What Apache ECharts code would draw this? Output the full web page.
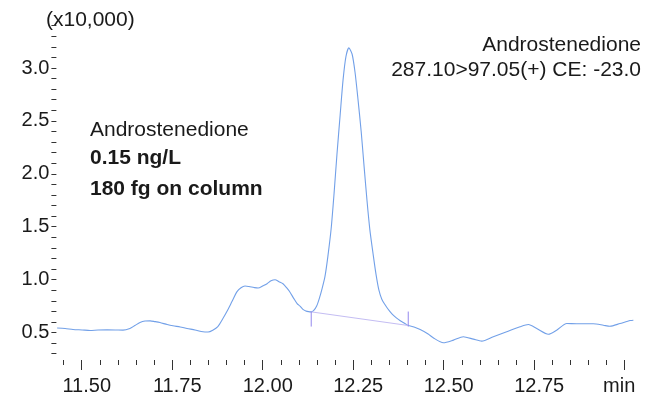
<!DOCTYPE html>
<html>
<head>
<meta charset="utf-8">
<script src="https://cdn.jsdelivr.net/npm/echarts@6.0.0/dist/echarts.min.js"></script>
<style>
html,body{margin:0;padding:0;background:#fff;}
#chart{width:649px;height:396px;}
</style>
</head>
<body>
<div id="chart"></div>
<script>
// Retention time (min)
const times = [
11.432,11.454,11.476,11.501,11.523,11.545,11.570,11.592,11.614,11.633,
11.647,11.661,11.675,11.689,11.702,11.716,11.736,11.752,11.772,11.791,
11.813,11.835,11.849,11.862,11.876,11.890,11.901,11.915,11.929,11.940,
11.951,11.962,11.976,11.987,12.001,12.012,12.023,12.034,12.045,12.056,
12.067,12.075,12.086,12.095,12.103,12.111,12.119,12.127,12.134,12.141,
12.149,12.156,12.164,12.172,12.180,12.189,12.197,12.205,12.214,12.222,
12.230,12.238,12.247,12.255,12.263,12.272,12.280,12.288,12.296,12.305,
12.313,12.321,12.329,12.338,12.346,12.354,12.362,12.370,12.379,12.388,
12.395,12.402,12.418,12.435,12.457,12.471,12.499,12.527,12.554,12.582,
12.605,12.637,12.674,12.711,12.734,12.757,12.789,12.812,12.840,12.867,
12.913,12.941,12.959,12.987,13.015,13.024
];
// Intensity (x10,000)
const intensity = [
0.542,0.538,0.528,0.524,0.519,0.524,0.525,0.524,0.522,0.538,
0.566,0.594,0.608,0.610,0.603,0.594,0.575,0.563,0.552,0.538,
0.524,0.507,0.505,0.522,0.556,0.632,0.698,0.792,0.886,0.923,
0.939,0.934,0.925,0.920,0.942,0.961,0.989,0.999,0.980,0.961,
0.919,0.883,0.820,0.773,0.749,0.719,0.704,0.697,0.695,0.708,
0.750,0.818,0.915,1.03,1.22,1.48,1.81,2.18,2.56,2.89,
3.11,3.19,3.13,2.96,2.71,2.40,2.07,1.75,1.47,1.24,
1.05,0.90,0.815,0.762,0.722,0.688,0.660,0.636,0.613,0.595,
0.580,0.566,0.552,0.528,0.486,0.450,0.403,0.428,0.460,0.437,
0.418,0.460,0.507,0.554,0.575,0.538,0.484,0.522,0.585,0.582,
0.582,0.569,0.559,0.585,0.613,0.616
];
// Integration baseline (start / end)
const baselineTimes = [12.134, 12.402];
const baselineValues = [0.695, 0.566];
// Peak start/end markers
const markerTimes = [12.134, 12.402];
const markerTop = [0.698, 0.698];
const markerBottom = [0.556, 0.556];

// Axis ticks and labels
const xMajorTicks = [11.50, 11.75, 12.00, 12.25, 12.50, 12.75, 13.00];
const xTickLabels = ['11.50', '11.75', '12.00', '12.25', '12.50', '12.75', 'min'];
const xMinorTicks = [11.45, 11.55, 11.60, 11.65, 11.70, 11.80, 11.85, 11.90, 11.95,
  12.05, 12.10, 12.15, 12.20, 12.30, 12.35, 12.40, 12.45, 12.55, 12.60, 12.65, 12.70,
  12.80, 12.85, 12.90, 12.95];
const yTicks = [0.3,0.4,0.5,0.6,0.7,0.8,0.9,1.0,1.1,1.2,1.3,1.4,1.5,1.6,1.7,1.8,1.9,2.0,
  2.1,2.2,2.3,2.4,2.5,2.6,2.7,2.8,2.9,3.0,3.1,3.2,3.3,3.4];
const yTickLabels = [0.5, 1.0, 1.5, 2.0, 2.5, 3.0];
const yUnitLabel = '(x10,000)';
const compoundName = 'Androstenedione';
const transitionLabel = '287.10>97.05(+) CE: -23.0';
const concentrationLabel = '0.15 ng/L';
const amountLabel = '180 fg on column';

const FONT = '"Liberation Sans", Arial, sans-serif';
const FS = 20;
const FA = 21;
const TXT = '#1a1a1a';

const chart = echarts.init(document.getElementById('chart'), null, {renderer: 'canvas'});

const lineData = times.map((t, i) => [t, intensity[i]]);
const baseData = baselineTimes.map((t, i) => [t, baselineValues[i]]);
const markerSeries = markerTimes.map((t, i) => ({
  type: 'line', xAxisIndex: 0, yAxisIndex: 0, silent: true, symbol: 'none', animation: false,
  lineStyle: {color: '#9488ee', width: 1},
  data: [[t, markerTop[i]], [t, markerBottom[i]]]
}));

const option = {
  animation: false,
  backgroundColor: '#ffffff',
  grid: {left: 56.4, right: 15.25, top: 20.4, bottom: 34.4, containLabel: false},
  xAxis: [{
    type: 'value', min: 11.43, max: 13.025, position: 'bottom',
    axisLine: {show: false},
    splitLine: {show: false},
    axisTick: {show: true, length: 10, lineStyle: {color: '#333', width: 1}, customValues: xMajorTicks},
    axisLabel: {
      show: true, customValues: xMajorTicks, margin: 16,
      formatter: function (v) {
        const i = xMajorTicks.findIndex(m => Math.abs(m - v) < 1e-6);
        const s = i >= 0 ? xTickLabels[i] : '';
        return s === 'min' ? '{m|' + s + '}' : '{n|' + s + '}';
      },
      rich: {
        n: {fontFamily: FONT, fontSize: FS, color: TXT, padding: [0, 0, 0, 10]},
        m: {fontFamily: FONT, fontSize: FS, color: TXT, padding: [0, 11, 0, 0]}
      }
    }
  }, {
    type: 'value', min: 11.43, max: 13.025, position: 'bottom', gridIndex: 0,
    axisLine: {show: false},
    splitLine: {show: false},
    axisTick: {show: true, length: 5, lineStyle: {color: '#333', width: 1}, customValues: xMinorTicks},
    axisLabel: {show: false}
  }],
  yAxis: {
    type: 'value', min: 0.24, max: 3.45,
    axisLine: {show: false},
    splitLine: {show: false},
    axisTick: {show: true, length: 5, lineStyle: {color: '#333', width: 1}, customValues: yTicks},
    axisLabel: {
      show: true, customValues: yTickLabels, margin: 7,
      fontFamily: FONT, fontSize: FS, color: TXT,
      formatter: v => v.toFixed(1)
    }
  },
  graphic: [
    {type: 'text', left: 46, top: 10, style: {text: yUnitLabel, font: FA + 'px ' + FONT, fill: TXT}},
    {type: 'text', right: 8, top: 35, style: {text: compoundName, font: FA + 'px ' + FONT, fill: TXT, textAlign: 'right'}},
    {type: 'text', right: 8, top: 60, style: {text: transitionLabel, font: FA + 'px ' + FONT, fill: TXT, textAlign: 'right'}},
    {type: 'text', left: 90, top: 120, style: {text: compoundName, font: FA + 'px ' + FONT, fill: TXT}},
    {type: 'text', left: 90, top: 148, style: {text: concentrationLabel, font: 'bold ' + FA + 'px ' + FONT, fill: TXT}},
    {type: 'text', left: 90, top: 179, style: {text: amountLabel, font: 'bold ' + FA + 'px ' + FONT, fill: TXT}}
  ],
  series: [{
    type: 'line', xAxisIndex: 0, yAxisIndex: 0, data: lineData, symbol: 'none', smooth: 0.25,
    clip: false,
    lineStyle: {color: '#72a0e8', width: 1.1}
  }, {
    type: 'line', xAxisIndex: 0, yAxisIndex: 0, data: baseData, symbol: 'none',
    lineStyle: {color: '#c4bdf3', width: 1}
  }].concat(markerSeries)
};
chart.setOption(option);
</script>
</body>
</html>
